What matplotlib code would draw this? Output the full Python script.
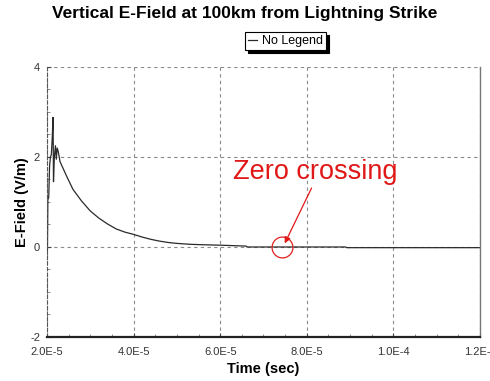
import numpy as np
import matplotlib
matplotlib.use('Agg')
import matplotlib.pyplot as plt
from matplotlib.ticker import AutoMinorLocator, FixedLocator

plt.rcParams['font.family'] = ['Liberation Sans', 'DejaVu Sans']
plt.rcParams['axes.unicode_minus'] = False

# time (sec) and vertical E-field (V/m)
t = np.array([2.000, 2.010, 2.020, 2.040, 2.060, 2.080, 2.100, 2.120, 2.140,
              2.150, 2.170, 2.195, 2.215, 2.235, 2.260, 2.30, 2.45, 2.60,
              2.80, 3.00, 3.20, 3.40, 3.60, 3.80, 4.00, 4.20, 4.40, 4.60,
              4.80, 5.00, 5.30, 5.60, 6.00, 6.60, 6.62, 8.90, 8.92, 12.0]) * 1e-5
efield = [-0.10, -0.05, 1.05, 1.10, 1.80, 2.00, 2.05, 2.40, 2.88,
          1.45, 2.00, 2.25, 1.95, 2.20, 2.12, 1.90, 1.58, 1.28,
          1.02, 0.80, 0.64, 0.51, 0.40, 0.33, 0.28, 0.22, 0.17, 0.13,
          0.10, 0.08, 0.06, 0.05, 0.04, 0.02, 0.0, 0.0, -0.015, -0.015]

xticks = [2.0e-5, 4.0e-5, 6.0e-5, 8.0e-5, 1.0e-4, 1.2e-4]
xtick_labels = ['2.0E-5', '4.0E-5', '6.0E-5', '8.0E-5', '1.0E-4', '1.2E-4']
yticks = [-2, 0, 2, 4]

# zero crossing circle, note and arrow (data coords)
zero_t = 7.42e-5
note_xy = (8.19e-5, 1.67)
arrow_from = (8.11e-5, 1.31)
arrow_to = (7.49e-5, 0.08)

fig = plt.figure(figsize=(4.9, 3.81), dpi=100)
ax = fig.add_axes([0.0959, 0.1155, 0.8837, 0.7087])

ax.plot(t, efield, color='#2a2a2a', lw=0.9, label='No Legend')

ax.set_xlim(2.0e-5, 1.2e-4)
ax.set_ylim(-2, 4)
ax.xaxis.set_major_locator(FixedLocator(xticks))
ax.set_xticklabels(xtick_labels)
ax.set_yticks(yticks)
ax.xaxis.set_minor_locator(AutoMinorLocator(4))
ax.yaxis.set_minor_locator(AutoMinorLocator(4))
ax.tick_params(which='major', direction='in', length=3, labelsize=8,
               colors='#444444', labelcolor='#333333')
ax.tick_params(axis='x', which='major', pad=7)
ax.tick_params(axis='y', which='major', pad=5)
ax.tick_params(which='minor', direction='in', length=2, colors='#777777')

ax.grid(True, which='major', ls=(0, (3, 3)), color='#8a8a8a', lw=0.8)
ax.spines['top'].set_visible(False)
ax.spines['left'].set_linestyle((0, (3, 2)))
ax.spines['left'].set_color('#555555')
ax.spines['right'].set_color('#777777')
ax.spines['right'].set_linewidth(1.0)
ax.spines['bottom'].set_color('#222222')
ax.spines['bottom'].set_linewidth(1.6)

ax.set_xlabel('Time (sec)', fontsize=10.5, fontweight='bold')
ax.set_ylabel('E-Field (V/m)', fontsize=10.5, fontweight='bold')
ax.xaxis.set_label_coords(0.5, -0.092)
ax.yaxis.set_label_coords(-0.042, 0.5)

fig.suptitle('Vertical E-Field at 100km from Lightning Strike',
             x=0.5, y=0.985, fontsize=12.5, fontweight='bold')

leg = fig.legend(loc='center', bbox_to_anchor=(0.583, 0.892), fontsize=9,
                 handlelength=0.7, handletextpad=0.4, borderpad=0.25,
                 fancybox=False, shadow={'color': 'black', 'alpha': 1.0},
                 edgecolor='black', framealpha=1)
leg.get_frame().set_linewidth(0.8)

ax.plot([zero_t], [0], marker='o', ms=15, mfc='none', mec='#e02020', mew=0.9)
ax.text(note_xy[0], note_xy[1], 'Zero crossing', color='#e01818',
        fontsize=19.5, ha='center', va='center')
ax.annotate('', xy=arrow_to, xytext=arrow_from,
            arrowprops=dict(arrowstyle='-|>', color='#e01818', lw=0.9,
                            mutation_scale=9, shrinkA=0, shrinkB=0))

fig.savefig('out.png', dpi=100)
